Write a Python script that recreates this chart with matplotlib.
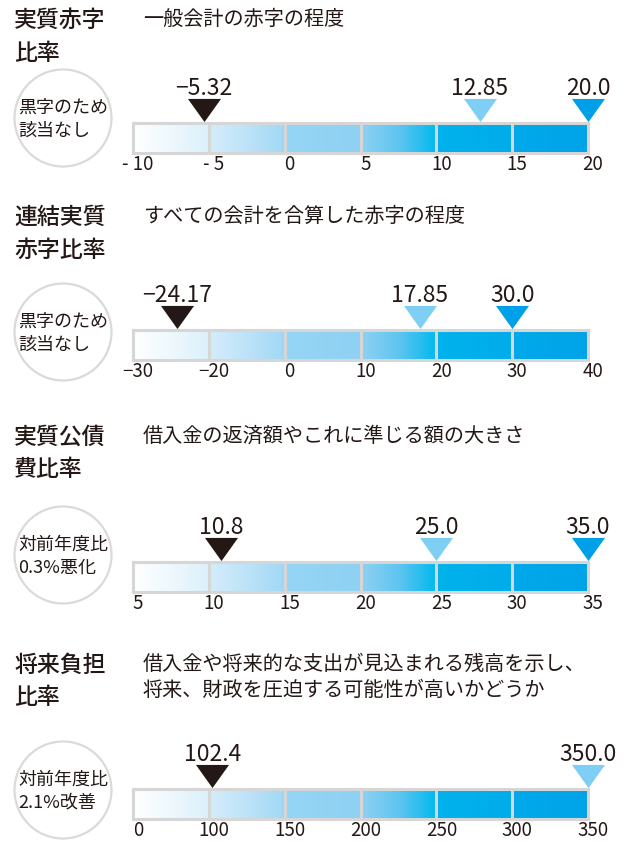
import numpy as np
import matplotlib
matplotlib.use('Agg')
import matplotlib.pyplot as plt
from matplotlib.colors import LinearSegmentedColormap
from matplotlib.patches import Circle
from matplotlib.transforms import ScaledTranslation

plt.rcParams['font.family'] = ['Noto Sans CJK JP', 'DejaVu Sans']

# data
titles = ['実質赤字\n比率', '連結実質\n赤字比率', '実質公債\n費比率', '将来負担\n比率']
descs = ['一般会計の赤字の程度',
         'すべての会計を合算した赤字の程度',
         '借入金の返済額やこれに準じる額の大きさ',
         '借入金や将来的な支出が見込まれる残高を示し、\n将来、財政を圧迫する可能性が高いかどうか']
notes = ['黒字のため\n該当なし', '黒字のため\n該当なし', '対前年度比\n0.3%悪化', '対前年度比\n2.1%改善']
scale_values = [[-10, -5, 0, 5, 10, 15, 20],
                [-30, -20, 0, 10, 20, 30, 40],
                [5, 10, 15, 20, 25, 30, 35],
                [0, 100, 150, 200, 250, 300, 350]]
scale_labels = [['- 10', '- 5', '0', '5', '10', '15', '20'],
                ['−30', '−20', '0', '10', '20', '30', '40'],
                ['5', '10', '15', '20', '25', '30', '35'],
                ['0', '100', '150', '200', '250', '300', '350']]
current = [-5.32, -24.17, 10.8, 102.4]
early_limit = [12.85, 17.85, 25.0, 350.0]      # 早期健全化基準
rebuild_limit = [20.0, 30.0, 35.0, None]       # 財政再生基準

# layout (pixels from top)
W, H = 632, 842
title_y = [20, 217, 437, 665]
circle_y = [118, 332, 555, 790]
bar_top = [123, 330, 562, 789]
bar_h = 30

text_col = '#231815'
mark_cols = ['#231815', '#7fcef4', '#00a0e9']
seg_stops = [['#ffffff', '#eef8fd', '#dcf0fb'],
             ['#d4edfa', '#bde3f8', '#a0d8f5'],
             ['#96d5f5', '#92d3f4', '#8fd1f3'],
             ['#8fd1f3', '#5ec5f0', '#00b9ee'],
             ['#00b2ec', '#00afeb', '#00acea'],
             ['#00a9ea', '#00a6e9', '#00a3e8']]
tri = [(-1, 0.7), (1, 0.7), (0, -0.7), (-1, 0.7)]


def fx(px):
    return px / W


def fy(py):
    return 1 - py / H


def fmt(v):
    s = f'{v:.1f}' if round(v * 10) == v * 10 else f'{v:.2f}'
    return s.replace('-', '−')


fig = plt.figure(figsize=(W / 100, H / 100), dpi=100)
grad = np.linspace(0, 1, 256).reshape(1, -1)

for i in range(4):
    # title and description
    for j, line in enumerate(titles[i].split('\n')):
        fig.text(fx(14), fy(title_y[i] + j * 33), line, fontsize=16.5, fontweight='medium',
                 color=text_col, va='center', ha='left')
    fig.text(fx(143), fy(title_y[i] - 11), descs[i], fontsize=14.5, color=text_col,
             va='top', ha='left', linespacing=1.3)

    # circle note
    axc = fig.add_axes([fx(13), fy(circle_y[i] + 50), fx(100), 100 / H])
    axc.set_xlim(-1, 1)
    axc.set_ylim(-1, 1)
    axc.axis('off')
    axc.add_patch(Circle((0, 0), 0.97, fill=False, ec='#dadada', lw=1.6))
    axc.text(0.0, -0.02, notes[i], ha='center', va='center', multialignment='left',
             fontsize=13, color=text_col, linespacing=1.35)

    # gradient bar
    ax = fig.add_axes([fx(133), fy(bar_top[i] + bar_h), fx(455), bar_h / H])
    for k, stops in enumerate(seg_stops):
        cmap = LinearSegmentedColormap.from_list(f'seg{k}', stops)
        ax.imshow(grad, cmap=cmap, extent=[k, k + 1, 0, 1], aspect='auto', zorder=1)
    for k in range(1, 6):
        ax.axvline(k, color='#d6d6d6', lw=2.2, zorder=2)
    ax.set_xlim(0, 6)
    ax.set_ylim(0, 1)
    for sp in ax.spines.values():
        sp.set_color('#d6d6d6')
        sp.set_linewidth(2.2)
    ax.set_yticks([])
    ax.set_xticks(range(7))
    ax.set_xticklabels(scale_labels[i])
    ax.tick_params(axis='x', length=0, pad=1, labelsize=13.5, labelcolor=text_col)
    for lbl in ax.get_xticklabels():
        lbl.set_transform(lbl.get_transform() + ScaledTranslation(5 / 100, 0, fig.dpi_scale_trans))

    # markers
    vals = [current[i], early_limit[i], rebuild_limit[i]]
    for v, c in zip(vals, mark_cols):
        if v is None:
            continue
        pos = np.interp(v, scale_values[i], range(7))
        ax.plot(pos, 1.45, marker=tri, ms=23.8, color=c, mec='none', clip_on=False, zorder=5)
        ax.text(pos, 1.93, fmt(v), ha='center', va='baseline', fontsize=16.5,
                color=text_col, clip_on=False)

fig.savefig('out.png', dpi=100)
